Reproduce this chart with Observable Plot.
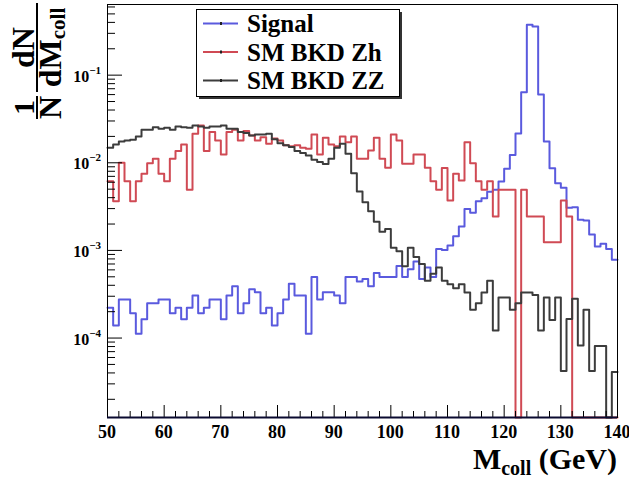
<!DOCTYPE html>
<html><head><meta charset="utf-8">
<script src="https://cdn.jsdelivr.net/npm/d3@7"></script>
<script src="https://cdn.jsdelivr.net/npm/@observablehq/plot@0.6"></script>
<style>html,body{margin:0;padding:0;background:#fff;} svg{display:block}</style>
</head><body><div id="chart"></div>
<script>
const binLow = 50, binWidth = 1;
const seriesNames = ["Signal", "SM BKD Zh", "SM BKD ZZ"];
const seriesColors = ["#5a5ade", "#d04a54", "#3c3c3c"];
const xTicksMajor = [50, 60, 70, 80, 90, 100, 110, 120, 130, 140];
const yTickExponents = [-4, -3, -2, -1];
const yDomain = [1.24e-5, 0.64];

const signal = [
 2.21e-4,1.39e-4,2.75e-4,2.75e-4,1.92e-4,1.12e-4,1.64e-4,2.49e-4,2.49e-4,2.75e-4,
 2.75e-4,1.92e-4,2.21e-4,1.64e-4,2.21e-4,3.05e-4,1.92e-4,2.21e-4,2.75e-4,2.75e-4,
 1.64e-4,3.05e-4,3.9e-4,1.92e-4,2.49e-4,3.6e-4,3.33e-4,1.92e-4,2.21e-4,1.39e-4,
 1.92e-4,2.75e-4,4.16e-4,3.05e-4,3.05e-4,1.12e-4,4.99e-4,2.75e-4,3.33e-4,3.33e-4,
 3.05e-4,2.49e-4,4.99e-4,4.99e-4,4.43e-4,4.71e-4,3.9e-4,5.54e-4,4.99e-4,4.99e-4,
 4.99e-4,6.65e-4,4.99e-4,6.09e-4,7.48e-4,4.71e-4,6.37e-4,4.99e-4,1.04e-3,1.01e-3,
 1.14e-3,1.45e-3,1.88e-3,2.96e-3,2.69e-3,3.64e-3,3.93e-3,4.67e-3,4.92e-3,6.12e-3,
 8.54e-3,1.23e-2,2.16e-2,6.40e-2,0.376,0.360,6.02e-2,1.75e-2,8.68e-3,5.85e-3,
 5.19e-3,3.06e-3,3.11e-3,2.24e-3,2.19e-3,1.52e-3,1.11e-3,1.19e-3,1.04e-3,7.81e-4
];
const zh = [
 6.17e-3,3.64e-3,1.0e-2,6.17e-3,3.64e-3,6.17e-3,7.49e-3,9.89e-3,1.11e-2,7.49e-3,
 6.17e-3,1.11e-2,1.36e-2,1.62e-2,4.92e-3,2.14e-2,2.67e-2,1.36e-2,2.24e-2,1.80e-2,
 1.24e-2,2.24e-2,2.38e-2,1.80e-2,2.30e-2,2.05e-2,1.80e-2,1.96e-2,1.65e-2,1.89e-2,
 1.80e-2,1.58e-2,1.54e-2,1.58e-2,1.48e-2,1.45e-2,2.10e-2,1.24e-2,1.93e-2,1.62e-2,
 1.54e-2,2.0e-2,1.72e-2,2.0e-2,1.11e-2,1.11e-2,1.38e-2,1.93e-2,1.11e-2,8.77e-3,
 2.10e-2,1.80e-2,9.74e-3,9.74e-3,1.24e-2,1.24e-2,8.77e-3,6.17e-3,4.92e-3,8.7e-3,
 3.71e-3,7.49e-3,6.28e-3,1.72e-2,9.89e-3,6.17e-3,4.92e-3,6.17e-3,2.44e-3,4.92e-3,
 4.92e-3,4.92e-3,0,4.92e-3,2.44e-3,2.44e-3,2.44e-3,1.24e-3,1.24e-3,1.24e-3,
 3.71e-3,2.44e-3,0,0,0,0,0,0,0,0
];
const zz = [
 0.0148,0.0162,0.0175,0.0180,0.0183,0.0200,0.0238,0.0238,0.0255,0.0244,
 0.0251,0.0238,0.0260,0.0255,0.0251,0.0267,0.0260,0.0251,0.0260,0.0260,
 0.0267,0.0244,0.0244,0.0224,0.0218,0.0205,0.0210,0.0210,0.0214,0.0185,
 0.0167,0.0158,0.0151,0.0136,0.0129,0.0121,0.0108,0.0102,0.0097,0.0111,
 0.0148,0.0165,0.0127,0.0076,0.0047,0.00355,0.0028,0.00213,0.00163,0.00176,
 0.00107,0.00098,0.00066,0.00107,0.00084,0.00070,0.00045,0.00054,0.00064,0.00045,
 0.00041,0.00037,0.00041,0.00033,0.00021,0.00025,0.00033,0.00045,0.000122,0.00029,
 0.00029,0.00021,0.00025,0.00033,0.00033,0.00031,0.000122,0.00029,0.000161,0.00029,
 0.000042,0.000165,0.00028,0.000082,0.00021,0.000042,0.000081,0.000081,0,0.000041
];

const allSeries = [signal, zh, zz];
const rows = [];
allSeries.forEach((vals, s) => {
  vals.forEach((v, i) => rows.push({x: binLow + i * binWidth, y: Math.max(v, yDomain[0]), s: seriesNames[s]}));
  rows.push({x: binLow + vals.length * binWidth, y: Math.max(vals[vals.length - 1], yDomain[0]), s: seriesNames[s]});
});

const xTicksMinor = d3.range(50, 141, 2).filter(v => v % 10 !== 0);
const yMajor = yTickExponents.map(e => Math.pow(10, e));
const yMinor = [];
for (let e = -5; e <= -1; e++) for (let k = 2; k <= 9; k++) {
  const v = k * Math.pow(10, e);
  if (v >= yDomain[0] && v <= yDomain[1]) yMinor.push(v);
}

const chart = Plot.plot({
  width: 629, height: 481,
  marginLeft: 107, marginRight: 12, marginTop: 4, marginBottom: 64,
  style: {background: "#fff"},
  x: {domain: [50, 140], label: null},
  y: {type: "log", domain: yDomain, label: null},
  color: {domain: seriesNames, range: seriesColors},
  marks: [
    Plot.line(rows, {x: "x", y: "y", z: "s", stroke: "s", curve: "step-after", strokeWidth: 2}),
    Plot.axisX({ticks: xTicksMajor, tickSize: -12, tickFormat: () => "", stroke: "#000"}),
    Plot.axisX({ticks: xTicksMinor, tickSize: -6, tickFormat: () => "", stroke: "#000"}),
    Plot.axisY({ticks: yMajor, tickSize: -15, tickFormat: () => "", stroke: "#000"}),
    Plot.axisY({ticks: yMinor, tickSize: -8, tickFormat: () => "", stroke: "#000"}),
    Plot.frame({stroke: "#000", strokeWidth: 1}),
    Plot.ruleY([yDomain[0]], {stroke: "#0a0a30", strokeWidth: 2})
  ]
});
document.getElementById("chart").appendChild(chart);

const svg = d3.select(chart);
const xs = chart.scale("x"), ys = chart.scale("y");
const font = "Liberation Serif, Times New Roman, serif";
const yBottom = ys.apply(yDomain[0]);

// x tick labels
svg.append("g").selectAll("text").data(xTicksMajor).join("text")
  .attr("x", d => xs.apply(d)).attr("y", yBottom + 21)
  .attr("text-anchor", "middle").attr("font-family", font).attr("font-weight", "bold")
  .attr("font-size", 18).attr("fill", "#000").text(d => d);

// y tick labels
const yl = svg.append("g").selectAll("text").data(yTickExponents).join("text")
  .attr("x", 101).attr("y", d => ys.apply(Math.pow(10, d)) + 7)
  .attr("text-anchor", "end").attr("font-family", font).attr("font-weight", "bold").attr("fill", "#000");
yl.append("tspan").attr("font-size", 16).text("10");
yl.append("tspan").attr("font-size", 11).attr("dy", -8).text(d => "\u2212" + (-d));

// x title
const xt = svg.append("text").attr("x", 617).attr("y", 469).attr("text-anchor", "end")
  .attr("font-family", font).attr("font-weight", "bold").attr("font-size", 30).attr("fill", "#000");
xt.append("tspan").text("M");
xt.append("tspan").attr("font-size", 20).attr("dy", 6).text("coll");
xt.append("tspan").attr("dy", -6).text(" (GeV)");

// y title (rotated fraction)
const yt = svg.append("g").attr("transform", "translate(37,119) rotate(-90)")
  .attr("font-family", font).attr("font-weight", "bold").attr("fill", "#000");
yt.append("text").attr("x", 11.5).attr("y", -3).attr("text-anchor", "middle").attr("font-size", 30).text("1");
yt.append("text").attr("x", 11.5).attr("y", 24).attr("text-anchor", "middle").attr("font-size", 32).text("N");
yt.append("line").attr("x1", 0).attr("x2", 23).attr("y1", 0).attr("y2", 0).attr("stroke", "#000").attr("stroke-width", 2);
yt.append("text").attr("x", 71.5).attr("y", -3).attr("text-anchor", "middle").attr("font-size", 32).text("dN");
const dm = yt.append("text").attr("x", 71.5).attr("y", 24).attr("text-anchor", "middle").attr("font-size", 32);
dm.append("tspan").text("dM");
dm.append("tspan").attr("font-size", 21).attr("dy", 4).text("coll");
yt.append("line").attr("x1", 27).attr("x2", 116).attr("y1", 0).attr("y2", 0).attr("stroke", "#000").attr("stroke-width", 2);

// legend
const lg = svg.append("g").attr("text-anchor", "start");
lg.append("rect").attr("x", 199).attr("y", 12).attr("width", 203).attr("height", 87).attr("fill", "#333");
lg.append("rect").attr("x", 196.5).attr("y", 9.5).attr("width", 203).attr("height", 87).attr("fill", "#fff").attr("stroke", "#000");
const rowY = [23.5, 52, 80.5];
seriesNames.forEach((name, i) => {
  lg.append("line").attr("x1", 203).attr("x2", 238).attr("y1", rowY[i]).attr("y2", rowY[i])
    .attr("stroke", seriesColors[i]).attr("stroke-width", 2);
  lg.append("rect").attr("x", 220).attr("y", rowY[i] - 1.5).attr("width", 2).attr("height", 3).attr("fill", "#222");
  lg.append("text").attr("x", 247).attr("y", rowY[i] + 8.5).attr("text-anchor", "start")
    .attr("font-family", font).attr("font-weight", "bold")
    .attr("font-size", 25).attr("fill", "#000").text(name);
});
</script></body></html>
